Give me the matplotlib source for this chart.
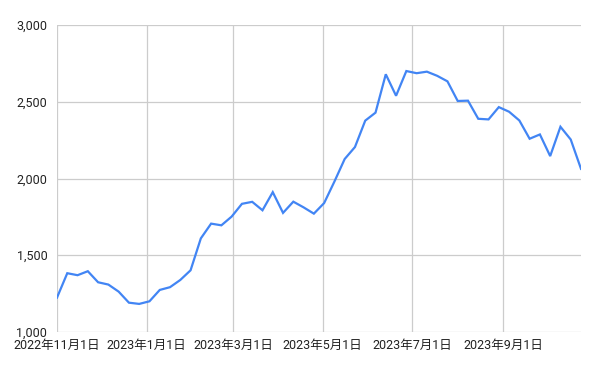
"""Weekly series line chart, Google Sheets style."""

from __future__ import annotations

import datetime as dt

import matplotlib

matplotlib.use("Agg")
import matplotlib.dates as mdates
import matplotlib.pyplot as plt
from matplotlib.ticker import FuncFormatter


START = dt.date(2022, 11, 1)
VALUES = [
    1224, 1383, 1370, 1396, 1324, 1309, 1263, 1191, 1183, 1200,
    1274, 1292, 1339, 1402, 1610, 1706, 1695, 1752, 1835, 1848,
    1793, 1911, 1776, 1849, 1812, 1771, 1840, 1980, 2127, 2205,
    2377, 2429, 2679, 2539, 2700, 2686, 2696, 2669, 2633, 2505,
    2507, 2389, 2385, 2465, 2435, 2378, 2259, 2287, 2146, 2337,
    2254, 2063,
]
X_TICKS = [
    dt.date(2022, 11, 1), dt.date(2023, 1, 1), dt.date(2023, 3, 1),
    dt.date(2023, 5, 1), dt.date(2023, 7, 1), dt.date(2023, 9, 1),
]
Y_TICKS = [1000, 1500, 2000, 2500, 3000]

plt.rcParams["font.family"] = ["Roboto", "Noto Sans CJK JP", "DejaVu Sans"]


def main() -> None:
    dates = [START + dt.timedelta(weeks=i) for i in range(len(VALUES))]

    fig = plt.figure(figsize=(6.0, 3.71), dpi=100)
    ax = fig.add_axes([57 / 600, 1 - 332 / 371, 524 / 600, 307 / 371])
    ax.plot(dates, VALUES, color="#4285f4", linewidth=1.6, solid_joinstyle="miter")

    ax.set_xlim(dates[0], dates[-1])
    ax.set_ylim(1000, 3000)
    ax.set_xticks(X_TICKS)
    ax.xaxis.set_major_formatter(
        FuncFormatter(lambda v, _: (lambda d: f"{d.year}年{d.month}月{d.day}日")(mdates.num2date(v)))
    )
    ax.set_yticks(Y_TICKS)
    ax.yaxis.set_major_formatter(FuncFormatter(lambda v, _: f"{int(v):,}"))

    ax.grid(True, color="#cccccc", linewidth=0.9)
    ax.set_axisbelow(True)
    for spine in ax.spines.values():
        spine.set_visible(False)
    ax.tick_params(length=0, labelsize=9, colors="#222222")
    ax.tick_params(axis="y", pad=7)
    ax.tick_params(axis="x", pad=5)

    fig.savefig("out.png", dpi=100)
    plt.close(fig)


if __name__ == "__main__":
    main()
